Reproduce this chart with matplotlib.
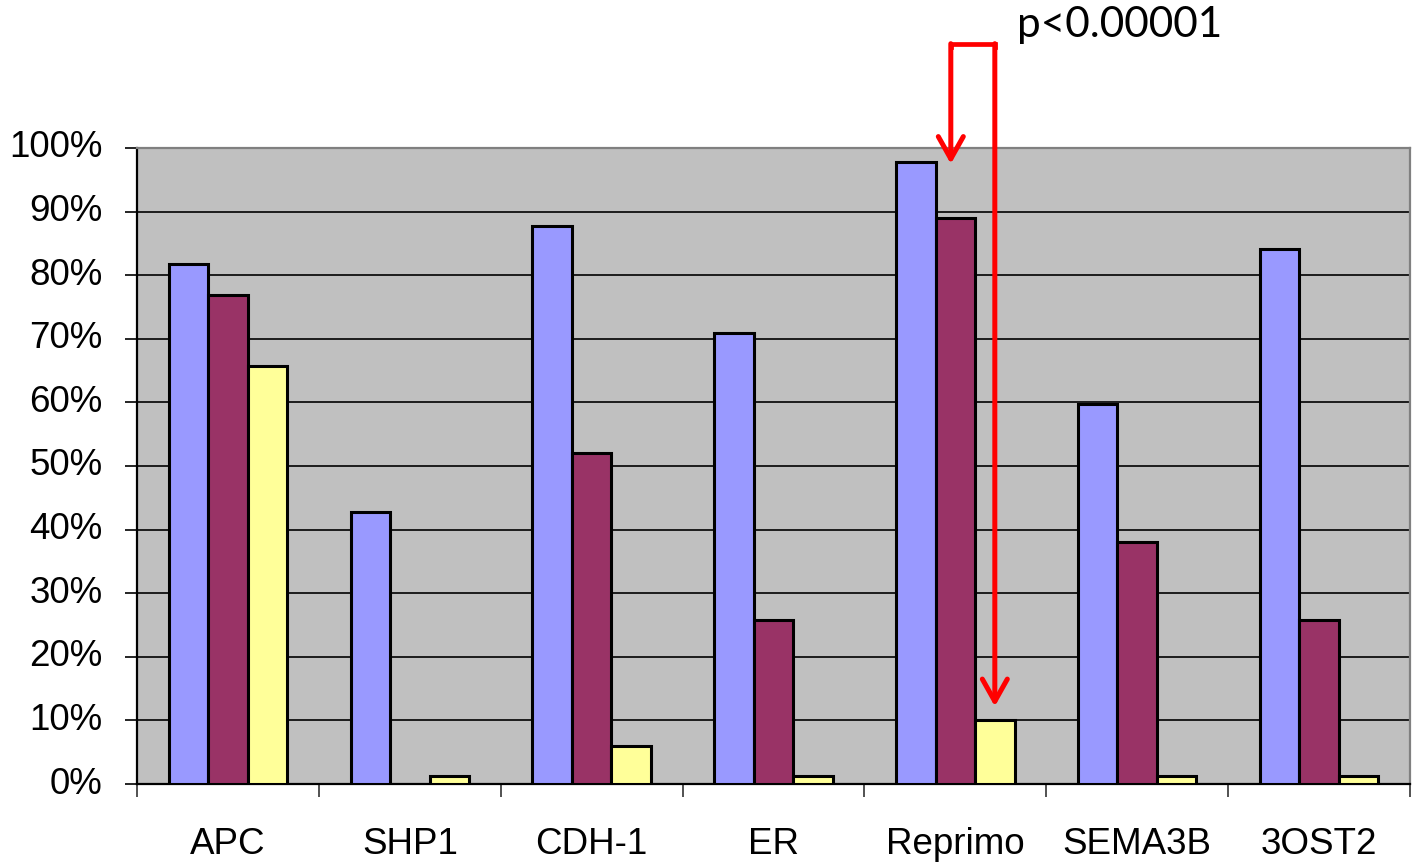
import matplotlib
matplotlib.use("Agg")
import matplotlib.pyplot as plt
import matplotlib.transforms as mtransforms
import numpy as np

categories = ["APC", "SHP1", "CDH-1", "ER", "Reprimo", "SEMA3B", "3OST2"]
series_blue = [81.8, 42.8, 87.7, 70.9, 97.8, 59.7, 84.1]
series_purple = [76.9, 0.0, 52.0, 25.8, 89.0, 38.0, 25.8]
series_yellow = [65.7, 1.3, 6.0, 1.3, 10.0, 1.3, 1.3]
y_ticks = [0, 10, 20, 30, 40, 50, 60, 70, 80, 90, 100]
y_tick_labels = [f"{v}%" for v in y_ticks]
annot_text = "p<0.00001"

colors = ["#9999FF", "#993366", "#FFFF99"]

fig = plt.figure(figsize=(14.12, 8.68), dpi=100)
ax = fig.add_axes([137/1412, 84/868, (1410-137)/1412, (784-148)/868])
ax.set_facecolor("#C0C0C0")

x = np.arange(len(categories))
w = 0.217
for i, (vals, c) in enumerate(zip([series_blue, series_purple, series_yellow], colors)):
    xs = x + (i - 1) * w
    for xi, v in zip(xs, vals):
        if v > 0:
            ax.bar(xi, v, width=w, color=c, edgecolor="black", linewidth=2.2, zorder=3)

ax.set_xlim(-0.5, len(categories) - 0.5)
ax.set_ylim(0, 100)
ax.set_yticks(y_ticks)
ax.set_yticklabels(y_tick_labels)
ax.yaxis.grid(True, color="black", linewidth=1.2, zorder=1)
ax.set_axisbelow(True)

ax.set_xticks(x)
ax.set_xticklabels(categories)
ax.set_xticks(np.arange(len(categories) + 1) - 0.5, minor=True)
ax.tick_params(axis="x", which="major", length=0, pad=31, labelsize=26.5)
ax.tick_params(axis="x", which="minor", length=9, width=1.2, color="#333333")
ax.tick_params(axis="y", length=9, width=1.2, pad=16, labelsize=26.5)
shift = mtransforms.ScaledTranslation(0, 4/100, fig.dpi_scale_trans)
for lab in ax.get_yticklabels():
    lab.set_fontfamily("Liberation Sans")
    lab.set_transform(lab.get_transform() + shift)
for lab in ax.get_xticklabels():
    lab.set_fontfamily("Liberation Sans")

ax.spines["left"].set_color("black")
ax.spines["left"].set_linewidth(1.6)
ax.spines["bottom"].set_color("black")
ax.spines["bottom"].set_linewidth(1.6)
ax.spines["top"].set_color("#808080")
ax.spines["top"].set_linewidth(1.6)
ax.spines["right"].set_color("#808080")
ax.spines["right"].set_linewidth(1.6)

# significance bracket
rep = categories.index("Reprimo")
xl = rep - 0.025
xr = rep + w
ytop = 116.4
ax.plot([xl, xl, xr, xr], [ytop - 0.5, ytop, ytop, ytop - 0.5], color="red", lw=3.4,
        clip_on=False, solid_joinstyle="miter", zorder=5)
arrow_kw = dict(arrowstyle="->,head_length=0.8,head_width=0.45", color="red", lw=3.6,
                mutation_scale=20, shrinkA=0, shrinkB=0)
ax.annotate("", xy=(xl, series_blue[rep] - 0.3), xytext=(xl, ytop), arrowprops=arrow_kw,
            annotation_clip=False, zorder=5)
ax.annotate("", xy=(xr, series_yellow[rep] + 2.2), xytext=(xr, ytop), arrowprops=arrow_kw,
            annotation_clip=False, zorder=5)
ax.text(rep + 0.34, 119.3, annot_text, fontsize=30.5, fontfamily="Lato", ha="left", va="center",
        clip_on=False)

fig.savefig("out.png", dpi=100)
